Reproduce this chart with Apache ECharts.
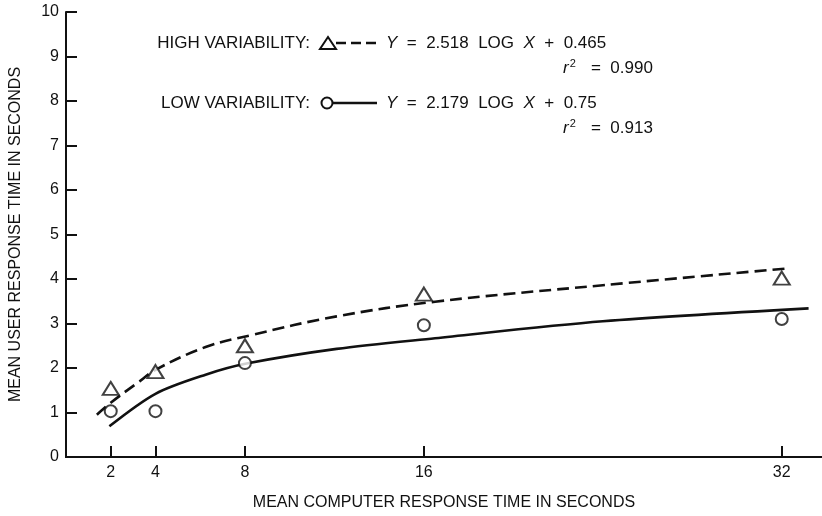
<!DOCTYPE html>
<html><head><meta charset="utf-8">
<script src="https://cdn.jsdelivr.net/npm/echarts@6/dist/echarts.min.js"></script>
<style>html,body{margin:0;padding:0;background:#fff}#c{width:822px;height:516px}</style>
</head><body><div id="c"></div>
<script>
const xTicks = [2, 4, 8, 16, 32];
const pointX = [2, 4, 8, 16, 32];
const highY = [1.54, 1.92, 2.50, 3.66, 4.02];
const lowY = [1.03, 1.03, 2.11, 2.96, 3.10];
const highFitX = [1.38, 2, 3.29, 4, 6.24, 8.29, 12.1, 16.5, 24, 32.3];
const highFitY = [0.95, 1.22, 1.70, 1.96, 2.47, 2.74, 3.16, 3.49, 3.86, 4.24];
const lowFitX = [1.94, 4, 6.24, 8.07, 12.1, 16.5, 24, 33.2];
const lowFitY = [0.69, 1.42, 1.85, 2.10, 2.43, 2.67, 3.05, 3.34];
const xTitle = 'MEAN COMPUTER RESPONSE TIME IN SECONDS';
const yTitle = 'MEAN USER RESPONSE TIME IN SECONDS';

const FONT = '"Liberation Sans", Arial, sans-serif';
const INK = '#111';
const zip = (a, b) => a.map((v, i) => [v, b[i]]);

const chart = echarts.init(document.getElementById('c'), null, {renderer: 'canvas'});
const rich = {
  i: {fontFamily: FONT, fontSize: 17, color: INK, fontStyle: 'italic'},
  s: {fontFamily: FONT, fontSize: 11, color: INK, verticalAlign: 'top', padding: [0, 1, 9, 1]}
};
chart.setOption({
  animation: false,
  backgroundColor: '#fff',
  textStyle: {fontFamily: FONT, color: INK, fontSize: 16},
  grid: {left: 56, right: 0, top: 12, bottom: 48},
  xAxis: [{
    type: 'value', min: 0, max: 33.8, position: 'bottom',
    name: xTitle, nameLocation: 'middle', nameGap: 38,
    nameTextStyle: {fontFamily: FONT, fontSize: 16, color: INK},
    axisLine: {show: true, onZero: false, lineStyle: {color: INK, width: 2}},
    axisTick: {show: true, inside: true, length: 11, customValues: xTicks, lineStyle: {color: INK, width: 2}},
    axisLabel: {customValues: xTicks, fontFamily: FONT, fontSize: 16, color: INK, margin: 8},
    splitLine: {show: false}
  }, {
    type: 'value', min: 0, max: 33.8, position: 'top',
    axisLine: {show: true, lineStyle: {color: INK, width: 2}},
    axisTick: {show: false}, axisLabel: {show: false}, splitLine: {show: false}
  }],
  yAxis: {
    type: 'value', min: 0, max: 10, interval: 1,
    name: yTitle, nameLocation: 'middle', nameGap: 42, nameRotate: 90,
    nameTextStyle: {fontFamily: FONT, fontSize: 16, color: INK},
    axisLine: {show: true, lineStyle: {color: INK, width: 2}},
    axisTick: {show: true, inside: true, length: 11, lineStyle: {color: INK, width: 2}},
    axisLabel: {fontFamily: FONT, fontSize: 16, color: INK, margin: 7},
    splitLine: {show: false}
  },
  series: [
    {type: 'line', data: zip(highFitX, highFitY), smooth: 0.4, showSymbol: false,
     lineStyle: {color: INK, width: 2.6, type: [12, 6]}, z: 2},
    {type: 'line', data: zip(lowFitX, lowFitY), smooth: 0.3, showSymbol: false,
     lineStyle: {color: INK, width: 2.6}, z: 2},
    {type: 'scatter', data: zip(pointX, highY), symbol: 'triangle', symbolSize: [16, 13],
     itemStyle: {color: '#fff', borderColor: INK, borderWidth: 2}, z: 3},
    {type: 'scatter', data: zip(pointX, lowY), symbol: 'circle', symbolSize: 12,
     itemStyle: {color: '#fff', borderColor: INK, borderWidth: 2}, z: 3}
  ],
  graphic: [
    {type: 'text', x: 310, y: 43, style: {text: 'HIGH VARIABILITY:', font: '17px ' + FONT, fill: INK, align: 'right', verticalAlign: 'middle'}},
    {type: 'polygon', shape: {points: [[320, 49], [336, 49], [328, 37]]}, style: {fill: '#fff', stroke: INK, lineWidth: 2}},
    {type: 'line', shape: {x1: 336, y1: 43, x2: 377, y2: 43}, style: {stroke: INK, lineWidth: 2.6, lineDash: [10, 5]}},
    {type: 'text', x: 386, y: 43, style: {text: '{i|Y}  =  2.518  LOG  {i|X}  +  0.465', font: '17px ' + FONT, fill: INK, rich: rich, verticalAlign: 'middle'}},
    {type: 'text', x: 563, y: 68, style: {text: '{i|r}{s|2}   =  0.990', font: '17px ' + FONT, fill: INK, rich: rich, verticalAlign: 'middle'}},
    {type: 'text', x: 310, y: 103, style: {text: 'LOW VARIABILITY:', font: '17px ' + FONT, fill: INK, align: 'right', verticalAlign: 'middle'}},
    {type: 'circle', shape: {cx: 327, cy: 103, r: 5.5}, style: {fill: '#fff', stroke: INK, lineWidth: 2}},
    {type: 'line', shape: {x1: 332.5, y1: 103, x2: 377, y2: 103}, style: {stroke: INK, lineWidth: 2.6}},
    {type: 'text', x: 386, y: 103, style: {text: '{i|Y}  =  2.179  LOG  {i|X}  +  0.75', font: '17px ' + FONT, fill: INK, rich: rich, verticalAlign: 'middle'}},
    {type: 'text', x: 563, y: 128, style: {text: '{i|r}{s|2}   =  0.913', font: '17px ' + FONT, fill: INK, rich: rich, verticalAlign: 'middle'}}
  ]
});
</script></body></html>
